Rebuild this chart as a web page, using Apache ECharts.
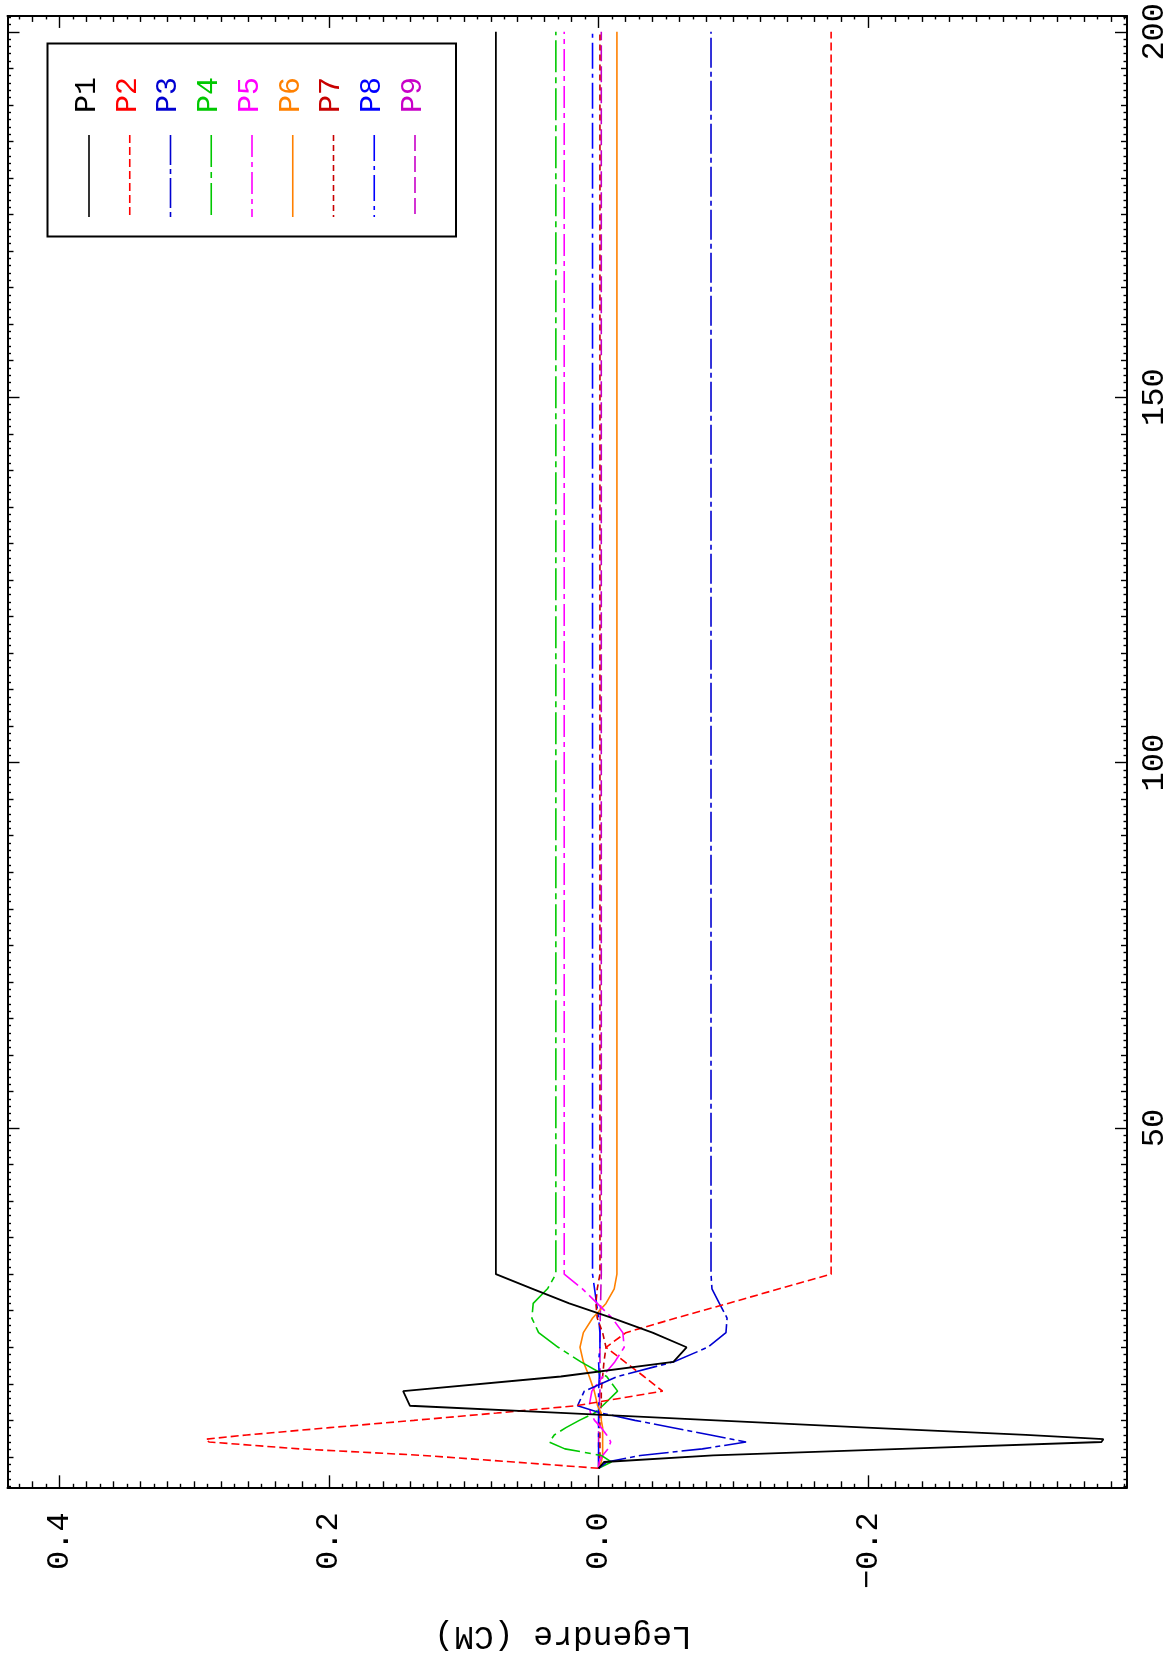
<!DOCTYPE html>
<html><head><meta charset="utf-8">
<script src="https://cdn.jsdelivr.net/npm/echarts@6/dist/echarts.min.js"></script>
<style>html,body{margin:0;padding:0;background:#fff}#c{width:1171px;height:1663px}</style>
</head><body><div id="c"></div>
<script>
// ---- data ----
const energy = [3.44, 4.3, 5.2, 6.1, 7.04, 7.42, 8, 9, 10, 11, 12, 14, 16, 18, 20, 22, 24, 26, 28, 30, 200];
const P1 = [0, -0.004, -0.085, -0.225, -0.373, -0.3745, -0.317, -0.199, -0.087, 0.024, 0.140, 0.145, 0.028, -0.0555, -0.0653, -0.040, -0.0104, 0.0218, 0.049, 0.0762, 0.0762];
const P2 = [0, 0.063, 0.130, 0.222, 0.289, 0.2915, 0.261, 0.1996, 0.137, 0.0757, 0.0168, -0.0475, -0.0337, -0.0195, -0.0055, -0.0203, -0.0574, -0.096, -0.134, -0.1725, -0.1725];
const P3 = [0, -0.006, -0.031, -0.077, -0.1094, -0.099, -0.083, -0.0552, -0.027, -0.002, 0.0156, 0.0106, -0.014, -0.0555, -0.081, -0.0945, -0.0953, -0.0896, -0.0841, -0.0834, -0.0834];
const P4 = [0, -0.0095, -0.002, 0.025, 0.0366, 0.035, 0.0329, 0.0242, 0.0143, 0.003, -0.003, -0.0141, -0.006, 0.0131, 0.030, 0.0445, 0.0495, 0.0485, 0.0379, 0.0317, 0.0317];
const P5 = [0, -0.0005, -0.003, -0.007, -0.009, -0.008, -0.006, -0.002, 0.003, 0.006, 0.007, 0.005, -0.003, -0.012, -0.019, -0.018, -0.010, 0.001, 0.012, 0.0255, 0.0255];
const P6 = [0, -0.002, -0.003, -0.003, -0.003, -0.003, -0.003, -0.003, -0.002, -0.002, 0.0007, 0.0032, 0.0069, 0.0113, 0.0138, 0.0113, 0.0044, -0.0055, -0.0116, -0.0136, -0.0136];
const P7 = [0, -0.0005, -0.001, -0.001, -0.001, -0.001, -0.001, -0.001, -0.001, -0.001, -0.002, -0.002, -0.003, -0.004, -0.0055, -0.003, 0.001, 0.002, 0.001, -0.001, -0.001];
const P8 = [0, 0, 0, 0, 0, 0, 0, 0, 0, 0, 0, 0, -0.0005, 0, -0.001, -0.001, 0, 0.0015, 0.003, 0.0045, 0.0045];
const P9 = [0, 0, 0, 0, 0, 0, 0, 0, 0, -0.0005, -0.0005, -0.001, -0.001, -0.001, -0.001, -0.0012, -0.0012, -0.0015, -0.0017, -0.002, -0.002];
const seriesNames = ['P1', 'P2', 'P3', 'P4', 'P5', 'P6', 'P7', 'P8', 'P9'];
const seriesValues = [P1, P2, P3, P4, P5, P6, P7, P8, P9];
const legendreTicks = [-0.2, 0.0, 0.2, 0.4];
const energyTicks = [50, 100, 150, 200];
const yTitle = 'Legendre (CM)';

// ---- styles ----
const colors = ['#000000', '#ff0000', '#0000d0', '#00c800', '#ff00ff', '#ff8000', '#c80000', '#0000ff', '#c800c8'];
const dashes = [null, [8, 4], [30, 4, 5, 4], [32, 5, 6, 5], [22, 5, 5, 5], null, [6, 4], [26, 5, 4, 5], [16, 5]];
const FONT = 'Liberation Mono';
const VMIN = -0.392, VMAX = 0.4385, EMIN = 0.84, EMAX = 202.17;

const vMinor = [], vMed = [];
for (let i = -39; i <= 43; i++) { if (i % 20 === 0) continue; if (i % 2 === 0) vMed.push(i / 100); else vMinor.push(i / 100); }
const eMinor = [], eMed = [];
for (let i = 1; i <= 202; i++) { if (i % 50 === 0) continue; if (i % 5 === 0) eMed.push(i); else eMinor.push(i); }

function hAxis(pos, vals, len, line, labels) {
  return {
    type: 'value', position: pos, min: VMIN, max: VMAX, inverse: true,
    axisLine: { show: line, onZero: false, lineStyle: { color: '#000', width: 2 } },
    axisTick: { show: true, inside: true, length: len, customValues: vals, lineStyle: { color: '#000', width: 1.4 } },
    axisLabel: labels ? {
      show: true, customValues: legendreTicks, rotate: 90, margin: 25, fontSize: 32, fontFamily: FONT, color: '#000',
      formatter: v => (v < 0 ? '\u2212' : '') + Math.abs(v).toFixed(1)
    } : { show: false },
    splitLine: { show: false }, minorTick: { show: false }
  };
}
function vAxis(pos, vals, len, line, labels) {
  return {
    type: 'value', position: pos, min: EMIN, max: EMAX,
    axisLine: { show: line, onZero: false, lineStyle: { color: '#000', width: 2 } },
    axisTick: { show: true, inside: true, length: len, customValues: vals, lineStyle: { color: '#000', width: 1.4 } },
    axisLabel: labels ? {
      show: true, customValues: energyTicks, rotate: 90, margin: 12, fontSize: 32, fontFamily: FONT, color: '#000',
      formatter: v => String(v)
    } : { show: false },
    splitLine: { show: false }, minorTick: { show: false }
  };
}

const xAxes = [
  hAxis('bottom', legendreTicks, 12, true, true),
  hAxis('bottom', vMed, 6, false, false),
  hAxis('bottom', vMinor, 3.5, false, false),
  hAxis('top', legendreTicks, 12, true, false),
  hAxis('top', vMed, 6, false, false),
  hAxis('top', vMinor, 3.5, false, false)
];
const yAxes = [
  vAxis('right', energyTicks, 12, true, true),
  vAxis('right', eMed, 6, false, false),
  vAxis('right', eMinor, 3.5, false, false),
  vAxis('left', energyTicks, 12, true, false),
  vAxis('left', eMed, 6, false, false),
  vAxis('left', eMinor, 3.5, false, false)
];

const series = seriesNames.map((n, k) => ({
  name: n, type: 'line', xAxisIndex: 0, yAxisIndex: 0,
  data: energy.map((e, i) => [seriesValues[k][i], e]),
  showSymbol: false, symbol: 'none', silent: true,
  lineStyle: { color: colors[k], width: k === 0 ? 1.8 : 1.6, type: dashes[k] || 'solid' },
  z: 10 - k
}));

// legend drawn as graphic (rotated texts)
const graphics = [
  { type: 'rect', shape: { x: 47.5, y: 43.5, width: 408.5, height: 193 }, style: { fill: 'none', stroke: '#000', lineWidth: 2 }, z: 50 }
];
seriesNames.forEach((n, k) => {
  const lx = 89 + k * 40.75;
  graphics.push({ type: 'line', shape: { x1: lx, y1: 135, x2: lx, y2: 217 },
    style: { stroke: colors[k], lineWidth: 1.6, lineDash: dashes[k] || null }, z: 50 });
  graphics.push({ type: 'text', x: lx - 2, y: 95, rotation: Math.PI / 2,
    style: { text: n, fill: colors[k], font: '30px "' + FONT + '"', align: 'center', verticalAlign: 'middle' }, z: 50 });
});
graphics.push({ type: 'text', x: 563, y: 1636, rotation: Math.PI,
  style: { text: yTitle, fill: '#000', font: '33px "' + FONT + '"', align: 'center', verticalAlign: 'middle' }, z: 50 });

const chart = echarts.init(document.getElementById('c'), null, { renderer: 'canvas' });
chart.setOption({
  animation: false,
  backgroundColor: '#ffffff',
  grid: { left: 7.5, right: 42.7, top: 5, bottom: 175.7, containLabel: false },
  xAxis: xAxes,
  yAxis: yAxes,
  series: series,
  graphic: graphics
});
</script>
</body></html>
